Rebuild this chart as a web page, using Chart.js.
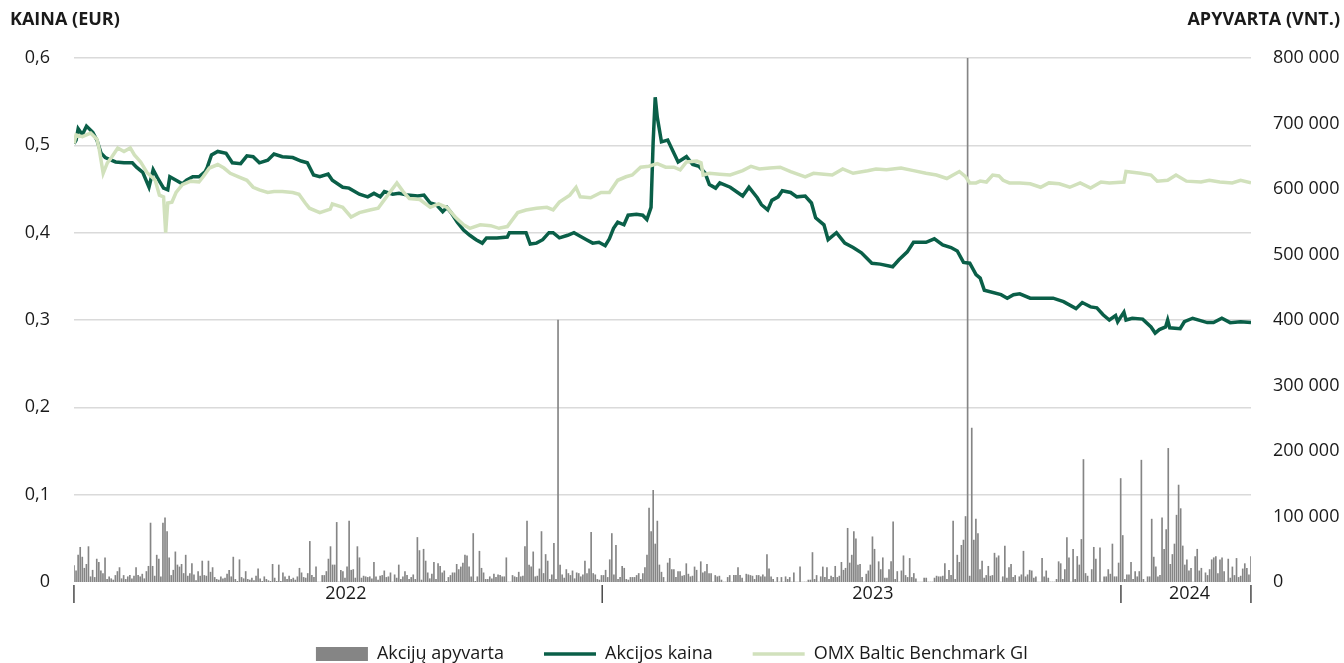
<!DOCTYPE html>
<html>
<head>
<meta charset="utf-8">
<script src="https://cdn.jsdelivr.net/npm/chart.js@4.4.1/dist/chart.umd.min.js"></script>
<style>
  html, body { margin: 0; padding: 0; background: #fff; }
  #wrap { width: 1344px; height: 663px; }
</style>
</head>
<body>
<div id="wrap"><canvas id="chart" width="1344" height="663"></canvas></div>
<script>
// x = trading day counted from the first session of 2022
const priceDays = [0,1,2,4,6,9,11,13,15,17,20,24,28,30,33,36,38,40,43,45,46,49,52,54,57,60,63,64,66,69,
  73,76,80,83,86,89,93,96,100,105,109,112,115,118,122,124,129,132,137,141,144,147,149,153,156,160,165,168,171,174,
  177,179,181,184,187,190,193,196,198,203,208,209,214,217,219,222,225,228,230,233,237,240,243,246,249,252,255,257,259,261,
  264,266,270,273,275,277,278,279,280,282,285,288,290,294,297,300,303,305,308,310,315,321,324,328,330,333,335,338,340,344,
  347,351,354,356,360,362,366,370,374,378,383,387,393,396,400,403,409,413,417,421,424,427,430,433,435,437,445,448,451,454,
  459,464,470,475,481,484,488,491,494,497,500,501,504,505,508,513,517,519,521,524,525,526,531,533,537,544,547,551,555,560,565];
const priceValues = [0.502,0.506,0.519,0.512,0.522,0.515,0.506,0.491,0.486,0.484,0.481,0.480,0.480,0.475,0.469,0.452,0.472,0.463,0.451,0.449,
  0.464,0.460,0.456,0.460,0.464,0.464,0.470,0.475,0.489,0.493,0.491,0.480,0.479,0.488,0.487,0.480,0.483,0.490,0.487,0.486,
  0.482,0.480,0.466,0.464,0.467,0.460,0.452,0.451,0.444,0.441,0.445,0.441,0.447,0.444,0.445,0.443,0.442,0.443,0.434,0.432,
  0.424,0.429,0.423,0.412,0.403,0.397,0.392,0.388,0.394,0.394,0.395,0.400,0.400,0.400,0.387,0.388,0.392,0.400,0.400,0.394,
  0.397,0.400,0.396,0.392,0.388,0.389,0.385,0.393,0.405,0.412,0.409,0.420,0.421,0.420,0.415,0.429,0.503,0.555,0.532,0.504,
  0.506,0.491,0.481,0.487,0.478,0.476,0.468,0.455,0.451,0.457,0.452,0.442,0.452,0.440,0.432,0.426,0.437,0.441,0.448,0.446,
  0.441,0.442,0.434,0.417,0.409,0.392,0.400,0.388,0.383,0.377,0.365,0.364,0.361,0.369,0.378,0.389,0.389,0.393,0.386,0.383,
  0.379,0.366,0.365,0.352,0.348,0.334,0.329,0.325,0.329,0.330,0.325,0.325,0.325,0.321,0.313,0.320,0.315,0.314,0.306,0.300,
  0.305,0.298,0.309,0.300,0.302,0.301,0.292,0.285,0.289,0.292,0.300,0.291,0.290,0.298,0.302,0.297,0.297,0.302,0.297,0.298,0.297];

const omxDays = [0,1,4,8,11,12,14,16,18,21,24,27,29,32,35,39,41,43,44,45,47,49,52,56,60,62,65,69,72,75,
  79,83,86,89,93,96,100,105,108,111,113,118,123,124,129,133,137,142,146,150,155,158,161,166,171,175,179,183,187,190,
  195,200,204,208,213,217,222,227,230,233,238,241,243,248,253,257,261,265,268,272,276,280,284,288,291,294,299,301,302,305,
  310,315,321,325,329,334,339,344,351,355,360,364,369,374,381,385,390,397,403,409,414,419,422,425,428,430,433,435,438,441,
  444,446,449,454,459,464,468,473,478,483,488,493,497,504,505,512,517,520,525,529,534,541,545,550,556,560,565];
const omxValues = [0.502,0.512,0.510,0.514,0.507,0.497,0.468,0.480,0.486,0.497,0.493,0.497,0.489,0.481,0.469,0.460,0.443,0.441,0.400,0.434,
  0.435,0.446,0.455,0.459,0.458,0.464,0.474,0.478,0.474,0.468,0.464,0.460,0.452,0.449,0.446,0.447,0.447,0.446,0.444,0.434,
  0.428,0.423,0.427,0.433,0.429,0.418,0.423,0.426,0.428,0.441,0.457,0.447,0.439,0.438,0.429,0.433,0.429,0.418,0.409,0.405,
  0.409,0.408,0.405,0.407,0.423,0.426,0.428,0.429,0.426,0.435,0.443,0.452,0.441,0.440,0.446,0.446,0.460,0.464,0.466,0.475,
  0.476,0.479,0.475,0.475,0.472,0.481,0.482,0.480,0.466,0.468,0.467,0.466,0.471,0.476,0.473,0.474,0.475,0.470,0.464,0.468,
  0.467,0.466,0.473,0.468,0.471,0.473,0.472,0.474,0.471,0.468,0.466,0.462,0.466,0.470,0.464,0.457,0.457,0.459,0.458,0.466,
  0.465,0.460,0.457,0.457,0.456,0.452,0.457,0.456,0.452,0.457,0.451,0.458,0.457,0.458,0.470,0.468,0.466,0.459,0.460,0.466,
  0.459,0.458,0.460,0.458,0.457,0.460,0.457];

// daily turnover, thousands of shares
const volumeK = [25,17,41,53,38,21,27,54,8,18,7,35,30,17,13,37,4,8,5,3,10,16,22,5,10,4,8,10,5,9,
  22,10,8,12,5,16,24,90,24,9,41,35,8,90,98,77,37,10,18,46,26,23,27,13,41,9,13,28,
  11,2,16,9,32,10,9,32,15,22,7,4,3,8,5,6,12,18,8,38,4,1,34,7,5,16,4,3,6,2,
  9,20,5,1,8,4,2,1,27,6,1,26,1,14,8,4,9,4,6,3,8,21,14,7,6,13,62,10,7,23,
  0,0,10,10,16,35,54,26,26,91,0,18,16,6,23,93,18,19,6,54,37,6,9,8,7,8,5,30,8,
  3,9,10,17,7,8,14,0,11,6,26,4,8,16,10,4,7,11,4,68,48,3,50,32,14,5,12,30,4,28,
  24,14,17,1,7,10,14,14,27,19,23,29,41,40,23,8,74,1,8,47,21,14,4,4,8,5,12,7,11,10,
  8,8,37,0,0,10,8,7,15,8,9,54,93,26,23,46,8,9,20,77,13,42,32,4,11,59,4,400,26,11,
  6,19,13,10,17,5,14,13,8,11,32,13,20,76,13,11,4,3,10,10,18,7,34,74,11,56,4,7,24,21,
  4,3,7,7,7,10,13,4,13,22,41,113,77,140,58,
  93,26,15,7,0,29,36,19,19,7,16,16,9,10,28,12,8,9,23,18,0,31,14,16,27,13,13,0,10,8,
  9,3,0,0,7,10,0,10,10,22,10,6,0,12,11,10,9,4,10,10,8,11,8,42,20,8,4,0,7,0,
  7,0,8,4,7,0,14,0,0,23,0,0,0,3,3,45,4,10,0,8,23,7,22,4,9,7,24,7,9,30,
  18,21,82,29,41,77,66,26,27,7,0,12,17,26,69,50,0,31,19,37,6,6,19,31,92,4,16,0,17,40,
  10,7,36,7,13,5,0,0,0,6,6,0,0,0,6,9,8,8,9,28,4,18,10,93,4,41,30,56,64,100,
  800,9,235,64,96,74,19,32,6,10,24,9,10,44,37,40,0,8,55,6,22,27,7,10,0,8,11,47,8,11,
  18,17,6,8,0,0,36,8,17,6,0,0,0,4,31,28,4,19,68,37,0,50,4,39,26,65,187,13,9,0,
  19,53,35,0,52,0,8,8,19,12,58,8,8,29,158,71,4,11,11,30,4,16,8,16,186,4,0,8,8,96,
  38,23,8,10,98,50,80,204,27,42,58,102,148,112,55,26,34,17,21,0,39,50,17,21,0,14,10,19,34,37,
  39,13,34,37,16,0,35,6,23,10,36,7,9,20,28,21,11,39];

const lastDay = 565;
const xTickValues = [0, 130.5, 253.5, 383.5, 502.6, 535.5, 565];
const xTickLabels = ['|', '2022', '|', '2023', '|', '2024', '|'];
const seriesNames = ['Akcijų apyvarta', 'Akcijos kaina', 'OMX Baltic Benchmark GI'];
const leftTitle = 'KAINA (EUR)';
const rightTitle = 'APYVARTA (VNT.)';

const textColor = '#1a1a1a';
Chart.defaults.font.family = '"Open Sans", sans-serif';
Chart.defaults.font.size = 18;
Chart.defaults.color = textColor;

const axisTitles = {
    id: 'axisTitles',
    afterDraw(chart) {
        const ctx = chart.ctx;
        ctx.save();
        ctx.font = 'bold 18px "Open Sans"';
        ctx.fillStyle = textColor;
        ctx.textBaseline = 'middle';
        ctx.textAlign = 'left';
        ctx.fillText(leftTitle, 10, 20);
        ctx.textAlign = 'right';
        ctx.fillText(rightTitle, 1340, 20);
        ctx.restore();
    }
};

const thousands = (v) => String(v).replace(/\B(?=(\d{3})+(?!\d))/g, ' ');

const data = {
    datasets: [{
        type: 'bar',
        label: seriesNames[0],
        data: volumeK.map((v, i) => ({ x: i * lastDay / (volumeK.length - 1), y: v * 1000 })),
        yAxisID: 'y1',
        backgroundColor: '#858585',
        barThickness: 1,
        order: 2
    }, {
        type: 'line',
        label: seriesNames[1],
        data: priceDays.map((d, i) => ({ x: d, y: priceValues[i] })),
        yAxisID: 'y',
        borderColor: '#0a5f48',
        borderWidth: 3.5,
        pointRadius: 0,
        tension: 0,
        order: 1
    }, {
        type: 'line',
        label: seriesNames[2],
        data: omxDays.map((d, i) => ({ x: d, y: omxValues[i] })),
        yAxisID: 'y',
        borderColor: '#d1e1bc',
        borderWidth: 3.5,
        pointRadius: 0,
        tension: 0,
        order: 0
    }]
};

const options = {
    responsive: false,
    animation: false,
    layout: { padding: { top: 58, left: 0, right: 0, bottom: 0 } },
    plugins: {
        tooltip: { enabled: false },
        legend: {
            position: 'bottom',
            maxHeight: 58,
            labels: {
                sort: (a, b) => a.datasetIndex - b.datasetIndex,
                usePointStyle: true,
                pointStyleWidth: 52,
                boxWidth: 52,
                boxHeight: 14,
                padding: 40,
                color: textColor,
                font: { size: 18 },
                generateLabels(chart) {
                    const items = Chart.defaults.plugins.legend.labels.generateLabels(chart);
                    items.forEach((it) => { it.pointStyle = it.datasetIndex === 0 ? 'rect' : 'line'; });
                    return items;
                }
            }
        }
    },
    scales: {
        x: {
            type: 'linear',
            min: 0,
            max: lastDay,
            offset: false,
            grid: { display: false, drawTicks: false, offset: false },
            border: { display: false },
            afterBuildTicks: (s) => { s.ticks = xTickValues.map((v) => ({ value: v })); },
            afterFit: (s) => { s.height = 23; },
            ticks: {
                autoSkip: false,
                maxRotation: 0,
                padding: 1,
                callback: (v, i) => xTickLabels[i]
            }
        },
        y: {
            position: 'left',
            min: 0,
            max: 0.6,
            afterFit: (s) => { s.width = 74; },
            ticks: {
                stepSize: 0.1,
                padding: 24,
                callback: (v) => (v === 0 ? '0' : v.toFixed(1).replace('.', ','))
            },
            grid: {
                drawTicks: false,
                lineWidth: 1.5,
                color: (c) => (c.tick && c.tick.value === 0 ? 'rgba(0,0,0,0)' : '#dadada')
            },
            border: { display: false }
        },
        y1: {
            position: 'right',
            min: 0,
            max: 800000,
            afterFit: (s) => { s.width = 93; },
            ticks: {
                stepSize: 100000,
                padding: 22,
                callback: (v) => thousands(v)
            },
            grid: { display: false, drawTicks: false },
            border: { display: false }
        }
    }
};

new Chart('chart', {
    data: data,
    options: options,
    plugins: [axisTitles]
});
</script>
</body>
</html>
